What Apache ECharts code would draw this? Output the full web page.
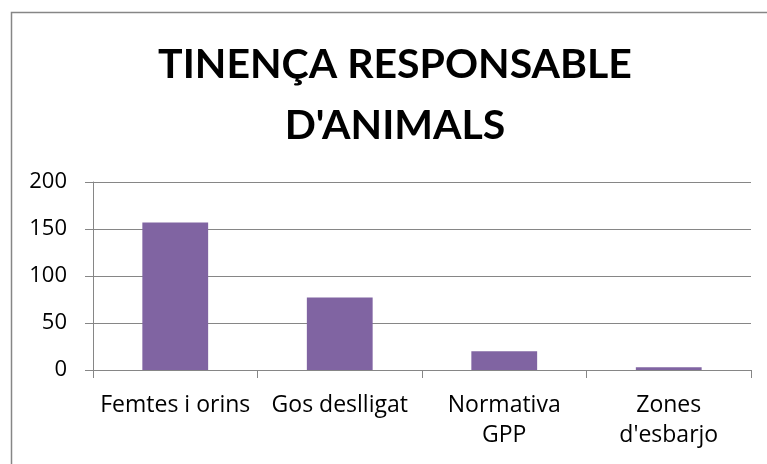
<!DOCTYPE html>
<html>
<head>
<meta charset="utf-8">
<script src="https://cdn.jsdelivr.net/npm/echarts@6/dist/echarts.min.js"></script>
<style>html,body{margin:0;padding:0;background:#fff}#c{width:767px;height:464px}</style>
</head>
<body>
<div id="c"></div>
<script>
const titleText = "TINENÇA RESPONSABLE\nD'ANIMALS";
const categories = ["Femtes i orins", "Gos deslligat", "Normativa\nGPP", "Zones\nd'esbarjo"];
const values = [157, 77, 20, 3];
const yTicks = { min: 0, max: 200, interval: 50 };

const chart = echarts.init(document.getElementById('c'), null, { renderer: 'canvas' });
chart.setOption({
  animation: false,
  backgroundColor: '#ffffff',
  title: {
    text: titleText,
    left: 395,
    top: 34,
    padding: 0,
    textAlign: 'center',
    textStyle: { fontFamily: 'Lato', fontWeight: 'bold', fontSize: 41, lineHeight: 61, color: '#000' }
  },
  graphic: [{
    type: 'rect', silent: true, z: -1,
    shape: { x: 11.5, y: 12.5, width: 800, height: 500 },
    style: { fill: 'none', stroke: '#868686', lineWidth: 1.5 }
  }],
  grid: { left: 93, right: 16, top: 182, bottom: 94, containLabel: false },
  xAxis: {
    type: 'category',
    data: categories,
    axisLine: { show: true, lineStyle: { color: '#868686', width: 1 } },
    axisTick: { show: true, alignWithLabel: false, length: 8, lineStyle: { color: '#868686' } },
    axisLabel: { color: '#000', fontFamily: 'Open Sans', fontSize: 23, lineHeight: 30, margin: 20, interval: 0 }
  },
  yAxis: {
    type: 'value',
    min: yTicks.min, max: yTicks.max, interval: yTicks.interval,
    axisLine: { show: true, lineStyle: { color: '#868686', width: 1 } },
    axisTick: { show: true, length: 8, lineStyle: { color: '#868686' } },
    axisLabel: { color: '#000', fontFamily: 'Open Sans', fontSize: 22, margin: 26 },
    splitLine: { show: true, lineStyle: { color: '#868686', width: 1 } }
  },
  series: [{
    type: 'bar',
    data: values,
    barWidth: '40%',
    itemStyle: { color: '#8064A2' }
  }]
});
</script>
</body>
</html>
